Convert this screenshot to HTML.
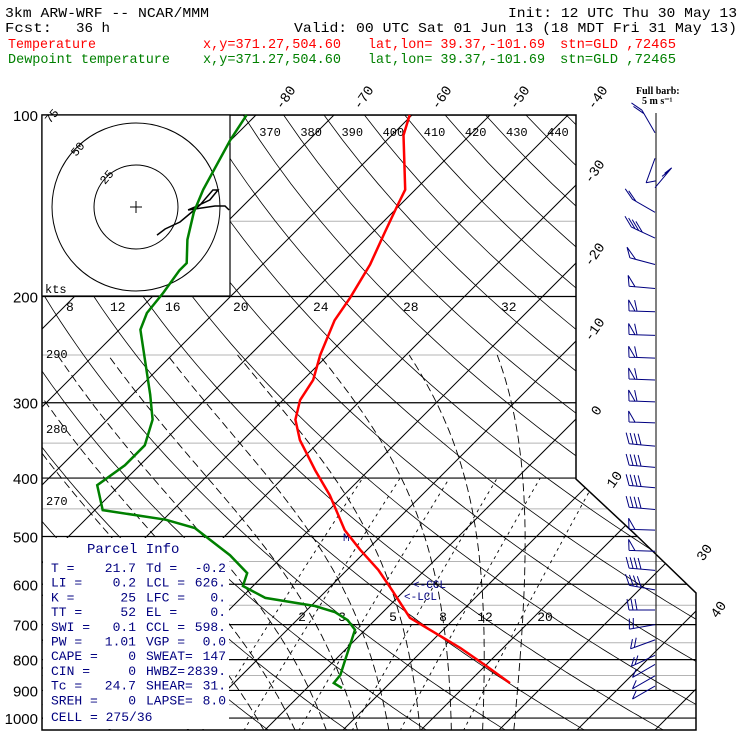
<!DOCTYPE html>
<html><head><meta charset="utf-8"><style>
html,body{margin:0;padding:0;background:#fff;}
svg{display:block;font-family:"Liberation Mono",monospace;}
</style></head><body>
<svg id="chart" width="740" height="740" viewBox="0 0 740 740" xmlns="http://www.w3.org/2000/svg">
<defs><clipPath id="plotclip"><polygon points="42,115 576,115 576,479 637,536 696,593 696,730 42,730"/></clipPath></defs>
<g font-size="14">
<text x="5" y="17" textLength="204" lengthAdjust="spacingAndGlyphs">3km ARW-WRF -- NCAR/MMM</text>
<text x="508" y="17" textLength="229" lengthAdjust="spacingAndGlyphs">Init: 12 UTC Thu 30 May 13</text>
<text x="5" y="32" textLength="47" lengthAdjust="spacingAndGlyphs">Fcst:</text>
<text x="76" y="32" textLength="34" lengthAdjust="spacingAndGlyphs">36 h</text>
<text x="294" y="32" textLength="443" lengthAdjust="spacingAndGlyphs">Valid: 00 UTC Sat 01 Jun 13 (18 MDT Fri 31 May 13)</text>
<g fill="#ff0000"><text x="8" y="48" textLength="88" lengthAdjust="spacingAndGlyphs">Temperature</text>
<text x="203" y="48" textLength="138" lengthAdjust="spacingAndGlyphs">x,y=371.27,504.60</text>
<text x="368" y="48" textLength="177" lengthAdjust="spacingAndGlyphs">lat,lon= 39.37,-101.69</text>
<text x="560" y="48" textLength="116" lengthAdjust="spacingAndGlyphs">stn=GLD ,72465</text></g>
<g fill="#008000"><text x="8" y="63" textLength="162" lengthAdjust="spacingAndGlyphs">Dewpoint temperature</text>
<text x="203" y="63" textLength="138" lengthAdjust="spacingAndGlyphs">x,y=371.27,504.60</text>
<text x="368" y="63" textLength="177" lengthAdjust="spacingAndGlyphs">lat,lon= 39.37,-101.69</text>
<text x="560" y="63" textLength="116" lengthAdjust="spacingAndGlyphs">stn=GLD ,72465</text></g>
</g>
<g id="bg" clip-path="url(#plotclip)" fill="none" stroke="#000" stroke-width="1"></g>
<g id="fg"></g>
</svg>
<script>
// ---- data ----
const tempP = [100,108,133,141,156,177,201,219,250,275,297,320,346,388,427,488,526,568,613,682,714,765,817,875];
const tempT = [-60.3,-58.5,-51.3,-50.3,-48.5,-46.2,-44.5,-43.6,-41,-38.7,-37.8,-35.9,-32.7,-26.9,-21.8,-15.4,-10.9,-6,-1.7,4.2,8.3,14.5,19.9,25.4];
const dewP = [100,110,133,145,161,176,181,197,213,227,255,291,320,353,381,411,452,469,484,537,575,604,632,652,667,688,714,801,848,875,892];
const dewT = [-81.2,-80.1,-77.2,-75.5,-72.8,-69.9,-69.9,-69.1,-68.6,-67.3,-62.8,-57.7,-54.2,-51.9,-51.9,-52.9,-49,-39.7,-34.9,-26.9,-22.4,-21.3,-16.9,-9.5,-6.2,-3.5,-1.3,1.3,2.6,2.8,4.5];
const windP = [107,118,132,145,160,177,194,212,232,253,275,299,324,354,384,415,451,488,529,569,613,662,700,742,787,815,851,885];
const windSpd = [10,5,10,10,20,25,25,30,30,30,30,30,25,20,20,20,20,25,25,20,20,15,10,10,10,5,5,5];
const windDir = [330,200,40,300,295,285,275,272,272,272,272,272,272,275,275,275,275,272,272,275,280,270,260,250,245,240,240,240];
const hodoU = [12.5,17.3,26.2,33.3,38.1,45.8,48.8,44,35.1,31,47,53,55.4];
const hodoV = [-16.7,-13.1,-8.9,-3,1.2,10.1,10.1,4.2,0,-1.8,0.6,0.6,-1.8];
const pressureLevels = [100,200,300,400,500,600,700,800,900,1000];
const isothermLabels = [-80,-70,-60,-50,-40,-30,-20,-10,0,10,30,40];
const thetaTopLabels = [370,380,390,400,410,420,430,440];
const mixLabels = [2,3,5,8,12,20];
const parcelRows = [["T  =","21.7","Td =","-0.2"],["LI =","0.2","LCL =","626."],["K  =","25","LFC =","0."],["TT =","52","EL  =","0."],["SWI =","0.1","CCL =","598."],["PW =","1.01","VGP =","0.0"],["CAPE =","0","SWEAT=","147"],["CIN =","0","HWBZ=","2839."],["Tc =","24.7","SHEAR=","31."],["SREH =","0","LAPSE=","8.0"]];

// ---- axes ----
const yP = p => 115 + 261.9*Math.log(p/100);
const xT = (T,p) => 277 + 7.8*T + (718 - yP(p));
function yPinv(y){return 100*Math.exp((y-115)/261.9);}
const NS = "http://www.w3.org/2000/svg";
const bg = document.getElementById('bg'), fg = document.getElementById('fg');
function mk(tag, attrs, parent){const e=document.createElementNS(NS,tag);for(const k in attrs)e.setAttribute(k,attrs[k]);parent.appendChild(e);return e;}
function path(pts){return pts.map((q,i)=>(i?'L':'M')+q[0].toFixed(1)+','+q[1].toFixed(1)).join('');}

for(let p=150;p<=950;p+=100){const l=mk('line',{x1:42,x2:700,y1:yP(p),y2:yP(p),stroke:'#b4b4b4'},bg);

}
for(let T=-140;T<=50;T+=10){const l=mk('line',{x1:xT(T,1050),y1:yP(1050),x2:xT(T,90),y2:yP(90)},bg);

}
for(let th=250;th<=450;th+=10){const pts=[];for(let p=1050;p>=95;p-=10){pts.push([xT(th*Math.pow(p/1000,0.286)-273.15,p),yP(p)]);}
const l=mk('path',{d:path(pts),'stroke-width':0.8},bg);

}
function es(t){return 6.112*Math.exp(17.67*t/(t+243.5));}
for(let T0=0;T0<=32;T0+=4){let T=T0+273.15;const pts=[];for(let p=1050;p>=250;p-=5){pts.push([xT(T-273.15,p),yP(p)]);const e=es(T-273.15);const rs=0.622*e/(p-e);const dTdp=(287*T+2.5e6*rs)/(1004+2.5e6*2.5e6*rs*0.622/(287*T*T))/p;T-=dTdp*5;}
const l=mk('path',{d:path(pts),'stroke-dasharray':'8,4','stroke-width':0.9},bg);

}
function tdFromE(e){const a=Math.log(e/6.112);return 243.5*a/(17.67-a);}
for(const w of [2,3,5,8,12,20]){const pts=[];for(let p=1050;p>=400;p-=10){const e=w*p/(622+w);pts.push([xT(tdFromE(e),p),yP(p)]);}
const l=mk('path',{d:path(pts),'stroke-dasharray':'3,4','stroke-width':0.9},bg);

}
for(const p of pressureLevels){const l=mk('line',{x1:42,x2:700,y1:yP(p),y2:yP(p),'stroke-width':1.2},bg);


const t=mk('text',{x:38,y:yP(p)+6,'text-anchor':'end','font-size':15,'font-family':'Liberation Sans, sans-serif'},fg);t.textContent=p;

}
const fr=mk('polygon',{points:'42,115 576,115 576,479 637,536 696,593 696,730 42,730',fill:'none',stroke:'#000','stroke-width':1.5},fg);



// hodograph inset
const hg=mk('g',{},fg);


mk('rect',{x:42,y:115,width:188,height:181,fill:'#fff',stroke:'#000','stroke-width':1.2},hg);
const hx=136,hy=207,hs=1.68;
mk('circle',{cx:hx,cy:hy,r:25*hs,fill:'none',stroke:'#000'},hg);
mk('circle',{cx:hx,cy:hy,r:50*hs,fill:'none',stroke:'#000'},hg);
mk('path',{d:'M130,207h12M136,201v12',stroke:'#000'},hg);
for(const h of [['25',105,185],['50',76,157],['75',50,124]]){const t=mk('text',{x:h[1],y:h[2],'font-size':12,transform:`rotate(-50 ${h[1]} ${h[2]})`},hg);t.textContent=h[0];}
const kt=mk('text',{x:45,y:293,'font-size':12},hg);kt.textContent='kts';
const hpts=hodoU.map((u,i)=>[hx+u*hs,hy-hodoV[i]*hs]);
const ht=mk('path',{d:path(hpts),fill:'none',stroke:'#000','stroke-width':1.5},hg);



// parcel info box
const pb=mk('g',{fill:'#000080','font-size':13},fg);


mk('rect',{x:43,y:538,width:186,height:191,fill:'#fff'},pb);
const ph=mk('text',{x:87,y:553,'font-size':14},pb);ph.textContent='Parcel Info';
parcelRows.forEach((r,i)=>{const y=572+i*14.7;
const a=mk('text',{x:51,y:y},pb);a.textContent=r[0];
const b=mk('text',{x:136,y:y,'text-anchor':'end'},pb);b.textContent=r[1];
const c=mk('text',{x:146,y:y},pb);c.textContent=r[2];
const d=mk('text',{x:226,y:y,'text-anchor':'end'},pb);d.textContent=r[3];});
const cell=mk('text',{x:51,y:721},pb);cell.textContent='CELL = 275/36';

// labels
const lab=mk('g',{'font-size':14,fill:'#000'},fg);
const rightPos={'-30':[598,174],'-20':[598,257],'-10':[598,332],'0':[600,413],'10':[618,482],'30':[708,555],'40':[722,612]};
isothermLabels.forEach(T=>{let x,y;if(T<=-40){y=100;x=xT(T,yPinv(y))+18;}else{[x,y]=rightPos[T];}
const t=mk('text',{x:x,y:y,'text-anchor':'middle',transform:`rotate(-55 ${x} ${y})`},lab);t.textContent=T;

});
thetaTopLabels.forEach(th=>{const p=yPinv(132);const x=xT(th*Math.pow(p/1000,0.286)-273.15,p)+5;const t=mk('text',{x:x,y:136,'font-size':12},lab);t.textContent=th;

});
[[290,358],[280,433],[270,505]].forEach(a=>{const t=mk('text',{x:46,y:a[1],'font-size':12},lab);t.textContent=a[0];

});
[[8,66],[12,110],[16,165],[20,233],[24,313],[28,403],[32,501]].forEach(a=>{const t=mk('text',{x:a[1],y:311,'font-size':13},lab);t.textContent=a[0];});
const mixX=[302,342,393,443,485,545];
mixLabels.forEach((w,i)=>{const t=mk('text',{x:mixX[i],y:621,'text-anchor':'middle','font-size':13},lab);t.textContent=w;

});
const ccl=mk('text',{x:413,y:588,fill:'#000080','font-size':11},lab);ccl.textContent='<-CCL';
const lcl=mk('text',{x:404,y:600,fill:'#000080','font-size':11},lab);lcl.textContent='<-LCL';
const mm=mk('text',{x:343,y:541,fill:'#000080','font-size':11},lab);mm.textContent='M';
const fb=mk('text',{x:636,y:94,'font-size':10,'font-weight':'bold','font-family':'Liberation Serif, serif'},lab);fb.textContent='Full barb:';
const fb2=mk('text',{x:642,y:104,'font-size':10,'font-weight':'bold','font-family':'Liberation Serif, serif'},lab);fb2.textContent='5 m s⁻¹';

// profiles
const tl=mk('path',{d:path(tempP.map((p,i)=>[xT(tempT[i],p),yP(p)])),fill:'none',stroke:'#ff0000','stroke-width':2.5},fg);


const dl=mk('path',{d:path(dewP.map((p,i)=>[xT(dewT[i],p),yP(p)])),fill:'none',stroke:'#008000','stroke-width':2.5},fg);



// wind barbs
const wg=mk('g',{stroke:'#000080','stroke-width':1,fill:'none'},fg);


mk('line',{x1:656,y1:113,x2:656,y2:690,stroke:'#000'},wg);
windP.forEach((p,i)=>{const y=yP(p),x=655,a=windDir[i]*Math.PI/180;const dx=Math.sin(a),dy=-Math.cos(a);const L=26;
const qx=dy, qy=dx; // perpendicular: up for westerly
const bx=(ax)=>[x+dx*ax,y+dy*ax];
let d=`M${x},${y}L${x+dx*L},${y+dy*L}`;let s=windSpd[i],pos=L;
while(s>=25){const b=bx(pos),c=bx(pos-6);d+=`M${b[0]},${b[1]}L${b[0]+qx*11},${b[1]+qy*11}L${c[0]},${c[1]}`;pos-=8;s-=25;}
while(s>=5){const b=bx(pos);d+=`M${b[0]},${b[1]}L${b[0]+qx*11+dx*2},${b[1]+qy*11+dy*2}`;pos-=4;s-=5;}
const el=mk('path',{d:d},wg);

});
</script>
</body></html>
